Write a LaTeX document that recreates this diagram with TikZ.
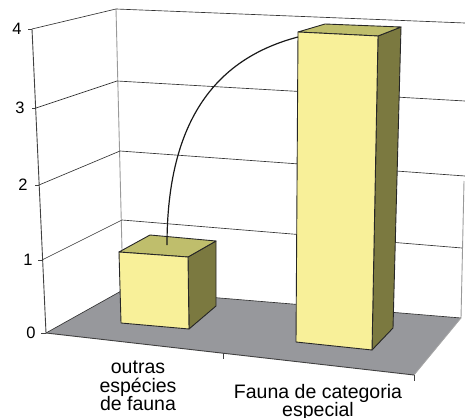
\documentclass[tikz,border=0pt]{standalone}
\usepackage{fontspec}
\setmainfont{Liberation Sans}
\definecolor{barfront}{RGB}{248,240,153}
\definecolor{bartop}{RGB}{191,190,108}
\definecolor{barside}{RGB}{123,121,64}
\definecolor{floorgray}{RGB}{151,152,156}
\begin{document}
\begin{tikzpicture}[x=1pt,y=-1pt,
  grid/.style={draw=black!80, line width=0.65pt},
  wall/.style={draw=black!40, line width=0.9pt},
  axisline/.style={draw=black!75, line width=0.9pt},
  barline/.style={draw=black!85, line width=0.9pt, line join=round},
  ticklbl/.style={font=\fontsize{16.5}{16.5}\selectfont, inner sep=0pt},
  catlbl/.style={font=\fontsize{19.5}{18.5}\selectfont, align=center, inner sep=0pt, anchor=north}]
\useasboundingbox (0,0) rectangle (465,417);
% wall corners
\coordinate (L4) at (32,29);  \coordinate (L3) at (36,108);
\coordinate (L2) at (39,185); \coordinate (L1) at (42,260);
\coordinate (L0) at (46,333);
\coordinate (K4) at (116,9);  \coordinate (K3) at (117,81);
\coordinate (K2) at (120,151); \coordinate (K1) at (122,220);
\coordinate (K0) at (123,290);
\coordinate (R4) at (465,23);  \coordinate (R3) at (465,101);
\coordinate (R2) at (465,176); \coordinate (R1) at (462,248);
\coordinate (R0) at (461,318); \coordinate (Rt) at (464,181);
\coordinate (F0) at (414,375);
% floor
\fill[floorgray] (L0) -- (K0) -- (R0) -- (F0) -- cycle;
% walls and gridlines
\draw[wall] (K4) -- (K0);
\draw[wall] (Rt) -- (R0);
\draw[grid] (L4) -- (K4) -- (R4);
\draw[grid] (L3) -- (K3) -- (R3);
\draw[grid] (L2) -- (K2) -- (R2);
\draw[grid] (L1) -- (K1) -- (R1);
\draw[grid] (L0) -- (K0) -- (R0);
\draw[draw=black!35, line width=0.8pt] (R0) -- (F0);
\draw[axisline] (L0) -- (F0);
% x ticks
\coordinate (T1) at (223,353); \coordinate (T1b) at (223,359);
\coordinate (T2b) at (414,381);
\draw[axisline] (T1) -- (T1b);
\draw[axisline] (F0) -- (T2b);
% small bar
\coordinate (a1) at (119,252); \coordinate (a2) at (188,257);
\coordinate (a3) at (189,329); \coordinate (a4) at (121,323);
\coordinate (b1) at (150,235); \coordinate (b2) at (216,241);
\coordinate (b3) at (216,306);
\filldraw[barline, fill=barside] (a2) -- (b2) -- (b3) -- (a3) -- cycle;
\filldraw[barline, fill=bartop] (a1) -- (b1) -- (b2) -- (a2) -- cycle;
\filldraw[barline, fill=barfront] (a1) -- (a2) -- (a3) -- (a4) -- cycle;
% big bar
\coordinate (g1) at (298,32); \coordinate (g2) at (378,36);
\coordinate (g3) at (372,350); \coordinate (g4) at (296,342);
\coordinate (h1) at (325,24); \coordinate (h2) at (401,27);
\coordinate (h3) at (393,328);
\filldraw[barline, fill=barside] (g2) -- (h2) -- (h3) -- (g3) -- cycle;
\filldraw[barline, fill=bartop] (g1) -- (h1) -- (h2) -- (g2) -- cycle;
\filldraw[barline, fill=barfront] (g1) -- (g2) -- (g3) -- (g4) -- cycle;
% curve
\coordinate (c1) at (167,245);
\coordinate (c2) at (298,37);
\draw[black!90, line width=1.2pt] (c1) .. controls (167,118) and (218,58) .. (c2);
% y axis
\draw[axisline] (L4) -- (L0);
\coordinate (t4) at (28,29); \coordinate (t3) at (32,108);
\coordinate (t2) at (35,185); \coordinate (t1) at (38,260);
\coordinate (t0) at (41,333);
\draw[axisline] (t4) -- (L4);
\draw[axisline] (t3) -- (L3);
\draw[axisline] (t2) -- (L2);
\draw[axisline] (t1) -- (L1);
\draw[axisline] (t0) -- (L0);
\node[ticklbl] (n4) at (17,29) {4};
\node[ticklbl] (n3) at (20,108) {3};
\node[ticklbl] (n2) at (23,185) {2};
\node[ticklbl] (n1) at (28,260) {1};
\node[ticklbl] (n0) at (31,333) {0};
% category labels
\node[catlbl] (cat1) at (138,361) {outras\\espécies\\de fauna};
\node[catlbl] (cat2) at (318,384) {Fauna de categoria\\especial};
\end{tikzpicture}
\end{document}
